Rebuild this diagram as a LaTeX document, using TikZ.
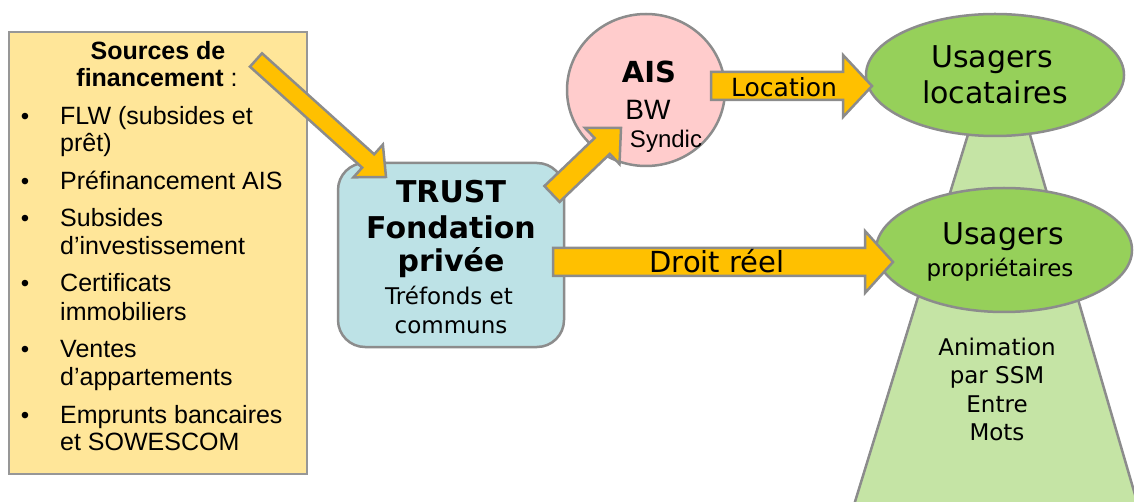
\documentclass[tikz,border=0pt]{standalone}
\usepackage{fontspec}
\setmainfont{Liberation Sans}
\newfontfamily\vfont{DejaVu Sans}
\usetikzlibrary{calc,shapes.geometric}
\definecolor{srcfill}{HTML}{FFE699}
\definecolor{arrfill}{HTML}{FFC000}
\definecolor{edgegray}{HTML}{8C8C8C}
\definecolor{trustfill}{HTML}{BDE2E6}
\definecolor{aisfill}{HTML}{FFCCCC}
\definecolor{greenfill}{HTML}{96D05A}
\definecolor{lightgreen}{HTML}{C5E4A5}
\tikzset{
  barrow/.style={fill=arrfill, draw=edgegray, line width=2.5pt, line join=miter},
  shapeline/.style={draw=edgegray, line width=2.5pt},
  txt/.style={inner sep=0pt, anchor=base},
  ltxt/.style={inner sep=0pt, anchor=base west, font=\fontsize{25}{28}\selectfont},
  bul/.style={inner sep=0pt, anchor=base, font=\fontsize{24}{28}\selectfont},
  ttl/.style={inner sep=0pt, anchor=base, font=\fontsize{25}{28}\selectfont\bfseries},
  vbig/.style={txt, font=\vfont\fontsize{30}{36}\selectfont},
  vbold/.style={txt, font=\vfont\bfseries\fontsize{30}{36}\selectfont},
  vmid/.style={txt, font=\vfont\fontsize{23}{27}\selectfont},
}
\newcommand\blockarr[5]{%
  \coordinate (#1-#2-b) at ($(#2)!#5!(#1)$);
  \draw[barrow] ($(#1)!#3!90:(#2)$) -- ($(#1-#2-b)!#3!-90:(#1)$) -- ($(#1-#2-b)!#4!-90:(#1)$) -- (#2)
     -- ($(#1-#2-b)!#4!90:(#1)$) -- ($(#1-#2-b)!#3!90:(#1)$) -- ($(#1)!#3!-90:(#2)$) -- cycle;}
\begin{document}
\begin{tikzpicture}[x=1pt,y=-1pt]
\useasboundingbox (0,0) rectangle (1134,502);
\fill[white] (0,0) rectangle (1134,502);

% left box
\node[draw=edgegray!90, line width=2pt, fill=srcfill, minimum width=298pt, minimum height=441pt, inner sep=0pt] (src) at (157.5,253) {};
\node[ttl] (t1) at (158,60) {Sources de};
\node[ttl] (t2) at (157,87) {financement\mdseries\ :};
\foreach \y in {125,190,227,292,357,423} \node[bul] at (25,\y) {•};
\node[ltxt] (l1) at (60,125) {FLW (subsides et};
\node[ltxt] (l2) at (60,152) {prêt)};
\node[ltxt] (l3) at (60,190) {Préfinancement AIS};
\node[ltxt] (l4) at (60,227) {Subsides};
\node[ltxt] (l5) at (60,255) {d’investissement};
\node[ltxt] (l6) at (60,292) {Certificats};
\node[ltxt] (l7) at (60,320) {immobiliers};
\node[ltxt] (l8) at (60,357) {Ventes};
\node[ltxt] (l9) at (60,385) {d’appartements};
\node[ltxt] (l10) at (60,423) {Emprunts bancaires};
\node[ltxt] (l11) at (60,450) {et SOWESCOM};

% green trapezoid
\begin{scope}
\clip (0,0) rectangle (1134,502);
\draw[shapeline, fill=lightgreen] (970,128) -- (1028,128) -- (1138,505) -- (854,505) -- cycle;
\end{scope}

% ellipses
\node[ellipse, shapeline, fill=greenfill, minimum width=258pt, minimum height=122pt] (loc) at (995,75) {};
\node[ellipse, shapeline, fill=greenfill, minimum width=256pt, minimum height=124pt] (prop) at (1004,250) {};
\node[vbig] at (992,68) {Usagers};
\node[vbig] at (995,104) {locataires};
\node[vbig] at (1003,245) {Usagers};
\node[vmid] at (1000,277) {propriétaires};
\node[vmid] at (997,355) {Animation};
\node[vmid] at (997,383) {par SSM};
\node[vmid] at (997,412) {Entre};
\node[vmid] at (997,440) {Mots};

% trust box
\node[rectangle, rounded corners=27pt, shapeline, fill=trustfill, minimum width=226pt, minimum height=184pt, inner sep=0pt] (trust) at (451,255) {};
\node[vbold] at (451,203) {TRUST};
\node[vbold] at (451,239) {Fondation};
\node[vbold] at (451,272) {privée};
\node[vmid] at (449,305) {Tréfonds et};
\node[vmid] at (451,333) {communs};

% AIS circle
\node[ellipse, shapeline, fill=aisfill, minimum width=158pt, minimum height=152pt] (ais) at (646,90) {};
\node[txt, font=\vfont\bfseries\fontsize{29}{32}\selectfont] at (649,83) {AIS};
\node[txt, font=\fontsize{28}{32}\selectfont] at (648,120) {BW};

% arrows
\coordinate (a1t) at (256,60);   \coordinate (a1p) at (386,177);
\coordinate (a2t) at (552,194);  \coordinate (a2p) at (621,128);
\coordinate (a3t) at (711,86);   \coordinate (a3p) at (872,86);
\coordinate (a4t) at (553,262);  \coordinate (a4p) at (893,262);
\blockarr{a1t}{a1p}{9pt}{22pt}{24pt}
\blockarr{a2t}{a2p}{11pt}{25pt}{26pt}
\blockarr{a3t}{a3p}{14pt}{31pt}{29pt}
\blockarr{a4t}{a4p}{14pt}{31pt}{28pt}
\node[txt, font=\fontsize{24}{28}\selectfont] at (666,148) {Syndic};
\node[txt, font=\vfont\fontsize{25}{30}\selectfont] at (784,97) {Location};
\node[txt, font=\vfont\fontsize{29}{34}\selectfont] at (717,273) {Droit réel};
\end{tikzpicture}
\end{document}
